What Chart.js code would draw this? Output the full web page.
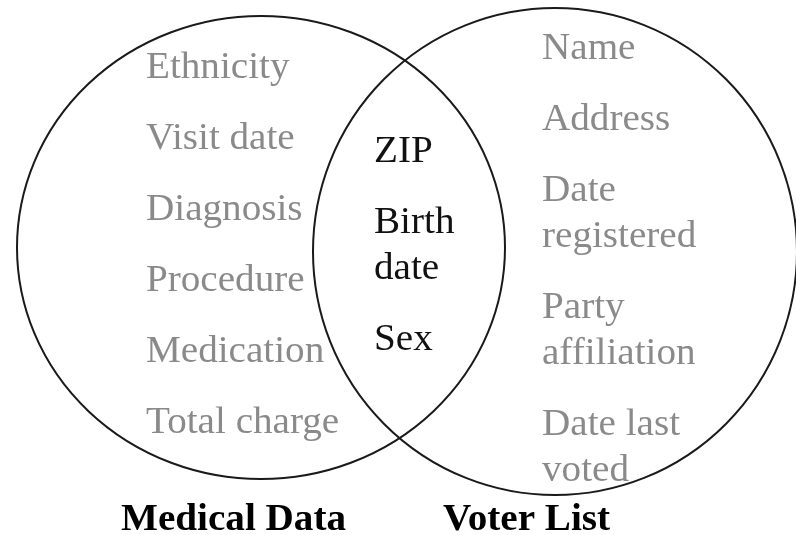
<!DOCTYPE html>
<html>
<head>
<meta charset="utf-8">
<script src="https://cdn.jsdelivr.net/npm/chart.js@4/dist/chart.umd.min.js"></script>
<style>
  html, body { margin: 0; padding: 0; background: #fff; }
  #wrap { width: 796px; height: 535px; }
</style>
</head>
<body>
<div id="wrap"><canvas id="c" width="796" height="535"></canvas></div>
<script>
// ---- Data ----
const setNames = ["Medical Data", "Voter List"];
const setCenterX = [261, 555];
const setCenterY = [247.5, 251.5];
const setRadiusX = [244, 242];
const setRadiusY = [231.5, 243.5];

const medicalOnly = ["Ethnicity", "Visit date", "Diagnosis", "Procedure", "Medication", "Total charge"];
const sharedFields = ["ZIP", ["Birth", "date"], "Sex"];
const voterOnly = ["Name", "Address", ["Date", "registered"], ["Party", "affiliation"], ["Date last", "voted"]];

// ---- Layout / styles ----
const groups = [
  { items: medicalOnly, x: 146, firstBaseline: 78, color: "#8a8a8a" },
  { items: sharedFields, x: 374, firstBaseline: 162, color: "#111111" },
  { items: voterOnly, x: 542, firstBaseline: 59, color: "#8a8a8a" }
];
const itemGap = 71, lineGap = 46;
const setNameX = [121, 443], setNameBaseline = 530;
const textStretch = 1.03;
const textFont = '38px "Liberation Serif", "Times New Roman", serif';
const boldFont = 'bold 38px "Liberation Serif", "Times New Roman", serif';

function stretchedText(ctx, txt, x, y) {
  ctx.save();
  ctx.translate(x, y);
  ctx.scale(textStretch, 1);
  ctx.fillText(txt, 0, 0);
  ctx.restore();
}

const vennPlugin = {
  id: 'venn',
  afterDatasetsDraw(chart) {
    const ctx = chart.ctx;
    const xs = chart.scales.x, ys = chart.scales.y;
    const meta = chart.getDatasetMeta(0);
    ctx.save();
    // circles
    ctx.strokeStyle = '#1a1a1a';
    ctx.lineWidth = 2;
    meta.data.forEach((pt, i) => {
      const rx = Math.abs(xs.getPixelForValue(setCenterX[i] + setRadiusX[i]) - pt.x);
      const ry = Math.abs(ys.getPixelForValue(setCenterY[i] + setRadiusY[i]) - pt.y);
      ctx.beginPath();
      ctx.ellipse(pt.x, pt.y, rx, ry, 0, 0, Math.PI * 2);
      ctx.stroke();
    });
    // field labels
    ctx.textAlign = 'left';
    ctx.textBaseline = 'alphabetic';
    ctx.font = textFont;
    groups.forEach(g => {
      let b = g.firstBaseline;
      ctx.fillStyle = g.color;
      g.items.forEach((item) => {
        const lines = Array.isArray(item) ? item : [item];
        lines.forEach((ln, j) => {
          stretchedText(ctx, ln, xs.getPixelForValue(g.x), ys.getPixelForValue(b));
          if (j < lines.length - 1) b += lineGap;
        });
        b += itemGap;
      });
    });
    // set names
    ctx.font = boldFont;
    ctx.fillStyle = '#000';
    setNames.forEach((n, i) => {
      stretchedText(ctx, n, xs.getPixelForValue(setNameX[i]), ys.getPixelForValue(setNameBaseline));
    });
    ctx.restore();
  }
};

new Chart(document.getElementById('c'), {
  type: 'scatter',
  data: {
    datasets: [{
      label: 'Sets',
      data: setNames.map((n, i) => ({ x: setCenterX[i], y: setCenterY[i] })),
      pointRadius: 0,
      pointHoverRadius: 0,
      showLine: false
    }]
  },
  options: {
    responsive: false,
    devicePixelRatio: 1,
    animation: false,
    layout: { padding: 0 },
    plugins: { legend: { display: false }, tooltip: { enabled: false } },
    scales: {
      x: { type: 'linear', min: 0, max: 796, display: false },
      y: { type: 'linear', min: 0, max: 535, reverse: true, display: false }
    }
  },
  plugins: [vennPlugin]
});
</script>
</body>
</html>
